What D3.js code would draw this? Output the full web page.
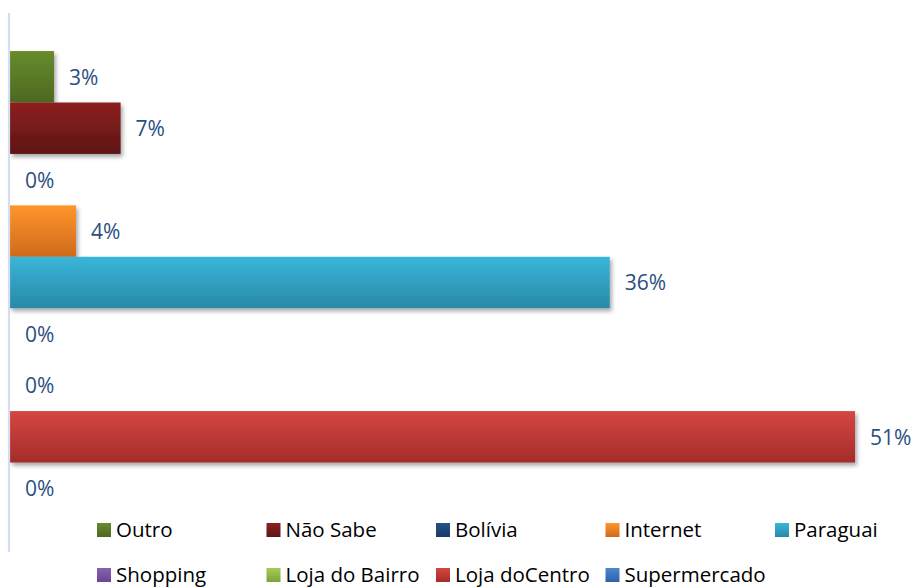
<!DOCTYPE html>
<html>
<head>
<meta charset="utf-8">
<script src="https://cdn.jsdelivr.net/npm/d3@7"></script>
<style>
  html, body { margin: 0; padding: 0; background: #ffffff; }
  svg { display: block; }
</style>
</head>
<body>
<svg id="chart" width="914" height="587"></svg>
<script>
// ---- Data ----
const categories = ["Outro", "Não Sabe", "Bolívia", "Internet", "Paraguai", "Shopping", "Loja do Bairro", "Loja doCentro", "Supermercado"];
const values = [0.0264, 0.0664, 0, 0.0396, 0.360, 0, 0, 0.5072, 0];
const colorsTop = ["#688b2d", "#8d2020", "#26518b", "#ff962c", "#39b6d9", "#8662b1", "#a4cd56", "#d54642", "#4b87d1"];
const colorsBottom = ["#4c691f", "#5e1515", "#1b3a66", "#cf6a1c", "#2989a7", "#694690", "#7ea23b", "#a42c2a", "#2e62a7"];
const legendRows = [["Outro", "Não Sabe", "Bolívia", "Internet", "Paraguai"],
                    ["Shopping", "Loja do Bairro", "Loja doCentro", "Supermercado"]];

const svg = d3.select("#chart");
const defs = svg.append("defs");

categories.forEach((c, i) => {
  const g = defs.append("linearGradient").attr("id", "grad" + i)
    .attr("x1", 0).attr("y1", 0).attr("x2", 0).attr("y2", 1);
  g.append("stop").attr("offset", "0%").attr("stop-color", colorsTop[i]);
  g.append("stop").attr("offset", "100%").attr("stop-color", colorsBottom[i]);
});

const f = defs.append("filter").attr("id", "shadow")
  .attr("x", "-5%").attr("y", "-10%").attr("width", "120%").attr("height", "140%");
f.append("feDropShadow").attr("dx", 2).attr("dy", 3).attr("stdDeviation", 2.2)
  .attr("flood-color", "#000").attr("flood-opacity", 0.35);

const x = d3.scaleLinear().domain([0, 0.5]).range([10, 843]);
const y = d3.scaleBand().domain(categories).range([13, 552]).paddingInner(0).paddingOuter(0.74);

const fmt = d3.format(".0%");
const fontFam = "'Open Sans', 'Noto Sans', sans-serif";

// bars
svg.append("g").selectAll("rect")
  .data(categories.map((c, i) => ({c, v: values[i], i})).filter(d => d.v > 0))
  .join("rect")
  .attr("x", x(0))
  .attr("y", d => y(d.c))
  .attr("width", d => x(d.v) - x(0))
  .attr("height", y.bandwidth())
  .attr("fill", d => `url(#grad${d.i})`)
  .attr("filter", "url(#shadow)");

// axis line
svg.append("line")
  .attr("x1", 9).attr("x2", 9).attr("y1", 13).attr("y2", 552)
  .attr("stroke", "#d3def1").attr("stroke-width", 2.2);

// value labels
svg.append("g").selectAll("text")
  .data(categories.map((c, i) => ({c, v: values[i]})))
  .join("text")
  .attr("x", d => x(d.v) + 15)
  .attr("y", d => y(d.c) + y.bandwidth() / 2)
  .attr("dy", "0.38em")
  .attr("font-family", fontFam)
  .attr("font-size", 21)
  .attr("fill", "#2a4f80")
  .text(d => fmt(d.v));

// legend
const legStartX = 97, legStepX = 169.5;
const rowTop = [523, 568];
legendRows.forEach((row, r) => {
  row.forEach((name, k) => {
    const i = categories.indexOf(name);
    const gx = legStartX + k * legStepX;
    svg.append("rect")
      .attr("x", gx).attr("y", rowTop[r])
      .attr("width", 14).attr("height", 14)
      .attr("fill", `url(#grad${i})`);
    svg.append("text")
      .attr("x", gx + 19).attr("y", rowTop[r] + 14)
      .attr("font-family", fontFam)
      .attr("font-size", 20.5)
      .attr("fill", "#000")
      .text(name);
  });
});
</script>
</body>
</html>
